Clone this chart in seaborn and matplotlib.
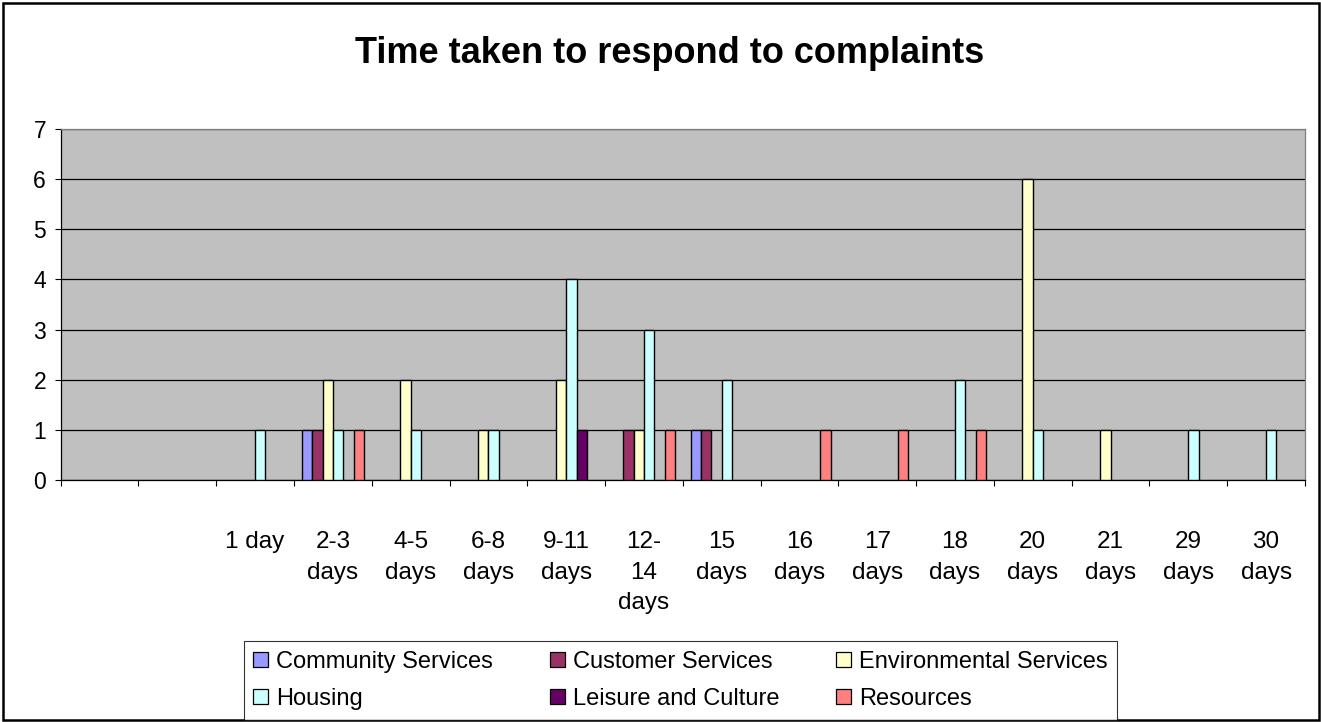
import numpy as np
import pandas as pd
import matplotlib
matplotlib.use("Agg")
import matplotlib.pyplot as plt
from matplotlib.patches import Patch, Rectangle
import seaborn as sns

# ---------------- data ----------------
title = "Time taken to respond to complaints"
cat_keys = ["_blank1", "_blank2", "1 day", "2-3 days", "4-5 days", "6-8 days",
            "9-11 days", "12-14 days", "15 days", "16 days", "17 days",
            "18 days", "20 days", "21 days", "29 days", "30 days"]
tick_labels = ["", "", "1 day", "2-3\ndays", "4-5\ndays", "6-8\ndays",
               "9-11\ndays", "12-\n14\ndays", "15\ndays", "16\ndays", "17\ndays",
               "18\ndays", "20\ndays", "21\ndays", "29\ndays", "30\ndays"]
series_names = ["Community Services", "Customer Services", "Environmental Services",
                "Housing", "Leisure and Culture", "Resources"]

community = [0, 0, 0, 1, 0, 0, 0, 0, 1, 0, 0, 0, 0, 0, 0, 0]
customer = [0, 0, 0, 1, 0, 0, 0, 1, 1, 0, 0, 0, 0, 0, 0, 0]
environmental = [0, 0, 0, 2, 2, 1, 2, 1, 0, 0, 0, 0, 6, 1, 0, 0]
housing = [0, 0, 1, 1, 1, 1, 4, 3, 2, 0, 0, 2, 1, 0, 1, 1]
leisure = [0, 0, 0, 0, 0, 0, 1, 0, 0, 0, 0, 0, 0, 0, 0, 0]
resources = [0, 0, 0, 1, 0, 0, 0, 1, 0, 1, 1, 1, 0, 0, 0, 0]

y_ticks = [0, 1, 2, 3, 4, 5, 6, 7]

colors = ["#9999FF", "#993366", "#FFFFCC", "#CCFFFF", "#660066", "#FF8080"]

# ---------------- build long table ----------------
series_values = [community, customer, environmental, housing, leisure, resources]
rows = []
for name, vals in zip(series_names, series_values):
    for cat, v in zip(cat_keys, vals):
        if v != 0:
            rows.append({"category": cat, "service": name, "count": v})
df = pd.DataFrame(rows)

# ---------------- figure ----------------
sns.set_style("white")
plt.rcParams["font.family"] = ["Liberation Sans", "DejaVu Sans"]
plt.rcParams["text.color"] = "black"
plt.rcParams["xtick.color"] = "black"
plt.rcParams["ytick.color"] = "black"
plt.rcParams["axes.labelcolor"] = "black"

W, H = 1321, 722
fig = plt.figure(figsize=(W / 100, H / 100), dpi=100)
fig.patch.set_facecolor("white")

ax = fig.add_axes([60.7 / W, 1 - 480 / H, (1305 - 60.7) / W, (480 - 129) / H])

sns.barplot(data=df, x="category", y="count", hue="service",
            order=cat_keys, hue_order=series_names,
            palette=dict(zip(series_names, colors)),
            width=0.8, errorbar=None, edgecolor="black", linewidth=1.0,
            saturation=1, legend=False, ax=ax, zorder=3)

ax.set_facecolor("#C0C0C0")
ax.set_xlim(-0.5, len(cat_keys) - 0.5)
ax.set_ylim(0, 7)
ax.set_xlabel("")
ax.set_ylabel("")

# gridlines
ax.set_yticks(y_ticks)
ax.set_yticklabels([str(t) for t in y_ticks], fontsize=16.5, color="black")
ax.yaxis.grid(True, color="black", linewidth=0.9, zorder=1)
ax.set_axisbelow(True)
ax.xaxis.grid(False)

# x ticks at category boundaries, labels at centers
ax.set_xticks(np.arange(len(cat_keys) + 1) - 0.5)
ax.set_xticklabels([])
ax.set_xticks(np.arange(len(cat_keys)), minor=True)
ax.set_xticklabels(tick_labels, minor=True, fontsize=17.5, linespacing=1.5,
                   color="black")
ax.tick_params(axis="x", which="major", direction="out", length=4.5, width=0.8,
               color="black", bottom=True)
ax.tick_params(axis="x", which="minor", length=0, pad=37)
ax.tick_params(axis="y", direction="out", length=4.5, width=0.8, color="black",
               left=True, pad=6)

for side in ["left", "bottom"]:
    ax.spines[side].set_color("black")
    ax.spines[side].set_linewidth(0.9)
for side in ["top", "right"]:
    ax.spines[side].set_color("#808080")
    ax.spines[side].set_linewidth(0.9)

# title
fig.text(670 / W, 1 - 63 / H, title, ha="center", va="baseline",
         fontsize=26, fontweight="bold", color="black")

# legend (row-major order like the original -> reorder for column filling)
handles = [Patch(facecolor=c, edgecolor="black", linewidth=0.9) for c in colors]
order = [0, 3, 1, 4, 2, 5]
leg = fig.legend([handles[i] for i in order], [series_names[i] for i in order],
                 ncol=3, mode="expand", loc="center",
                 bbox_to_anchor=(244 / W, 1 - 719 / H, (1117 - 244) / W, (719 - 642) / H),
                 fontsize=17, frameon=True, fancybox=False, edgecolor="black",
                 handlelength=0.62, handleheight=0.58, handletextpad=0.35,
                 borderpad=0.4, labelspacing=0.65, borderaxespad=0)
leg.get_frame().set_linewidth(0.8)
for t in leg.get_texts():
    t.set_color("black")

# outer border
fig.patches.append(Rectangle((2.5 / W, 2.5 / H), (W - 5) / W, (H - 5) / H,
                             transform=fig.transFigure, fill=False,
                             edgecolor="black", linewidth=1.8))

fig.savefig("out.png", dpi=100)
